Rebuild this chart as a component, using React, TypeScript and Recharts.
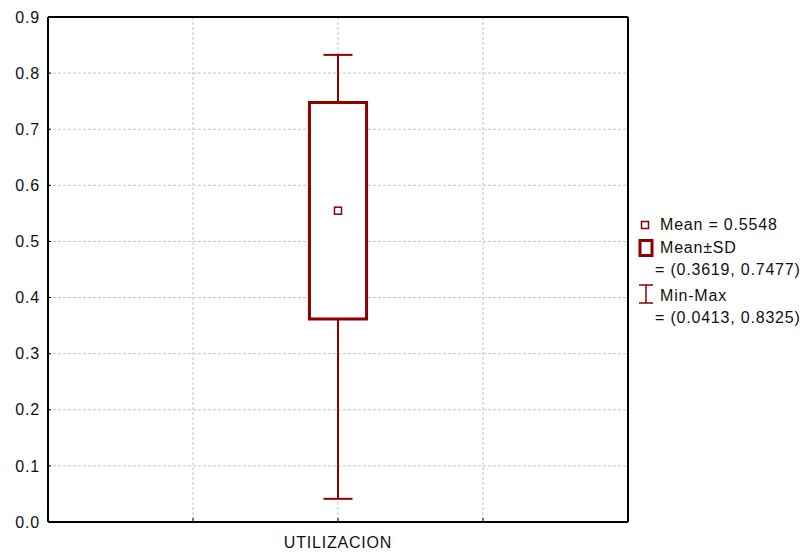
import { ComposedChart, XAxis, YAxis, CartesianGrid, Scatter, ReferenceArea, ReferenceLine } from "recharts";

const categories = ["UTILIZACION"];
const categoryPos = [2];
const meanValues = [0.5548];
const sdLow = [0.3619];
const sdHigh = [0.7477];
const minValues = [0.0413];
const maxValues = [0.8325];
const yTicks = [0, 0.1, 0.2, 0.3, 0.4, 0.5, 0.6, 0.7, 0.8, 0.9];
const xTicks = [1, 2, 3];

const RED = "#8c0000";
const FONT = "'Liberation Sans', Arial, sans-serif";
const tickStyle = { fill: "#111", fontSize: 16, fontFamily: FONT, letterSpacing: 0.8 };
const BOX_HALF = 0.197;
const CAP_HALF = 0.1;

const meanData = categoryPos.map((x, i) => ({ x, y: meanValues[i] }));

const MeanMark = (p: any) => (
  <rect x={p.cx - 3.5} y={p.cy - 3.5} width={7} height={7} fill="#fff" stroke={RED} strokeWidth={1.5} />
);

const fmt = (v: number) => v.toFixed(4);

function LegendBox() {
  const t = { fontFamily: FONT, fontSize: 16, letterSpacing: 0.8, fill: "#111" };
  return (
    <svg width={803} height={552} style={{ position: "absolute", left: 0, top: 0, pointerEvents: "none" }}>
      <rect x={641.5} y={221.5} width={7} height={7} fill="#fff" stroke={RED} strokeWidth={1.5} />
      <text x={660} y={230} {...t}>Mean = {fmt(meanValues[0])}</text>
      <rect x={640} y={240.5} width={12} height={15} fill="#fff" stroke={RED} strokeWidth={3} />
      <text x={660} y={253} {...t}>Mean±SD</text>
      <text x={655} y={275} {...t}>= ({fmt(sdLow[0])}, {fmt(sdHigh[0])})</text>
      <line x1={646} x2={646} y1={285} y2={303} stroke={RED} strokeWidth={1.5} />
      <line x1={639} x2={653} y1={285} y2={285} stroke={RED} strokeWidth={1.5} />
      <line x1={639} x2={653} y1={303} y2={303} stroke={RED} strokeWidth={1.5} />
      <text x={660} y={301} {...t}>Min-Max</text>
      <text x={655} y={323} {...t}>= ({fmt(minValues[0])}, {fmt(maxValues[0])})</text>
    </svg>
  );
}

export default function App() {
  return (
    <div style={{ position: "absolute", left: 0, top: 0, width: 803, height: 552, background: "#fff" }}>
      <ComposedChart width={803} height={552} margin={{ top: 16, right: 174, bottom: 0, left: 0 }}>
        <CartesianGrid stroke="#c4c4c4" strokeDasharray="3 2" />
        <XAxis
          type="number"
          dataKey="x"
          domain={[0, 4]}
          ticks={xTicks}
          height={30}
          tickSize={-4}
          tickMargin={19}
          tick={tickStyle}
          tickFormatter={(v: number) => {
            const i = categoryPos.indexOf(v);
            return i >= 0 ? categories[i] : "";
          }}
          axisLine={{ stroke: "#000", strokeWidth: 2 }}
          tickLine={{ stroke: "#000" }}
        />
        <XAxis
          xAxisId="top"
          orientation="top"
          type="number"
          domain={[0, 4]}
          ticks={xTicks}
          height={1}
          tickSize={-4}
          tickFormatter={() => ""}
          axisLine={{ stroke: "#000", strokeWidth: 2 }}
          tickLine={{ stroke: "#000" }}
        />
        <YAxis
          type="number"
          domain={[0, 0.9]}
          ticks={yTicks}
          width={48}
          tickSize={-3}
          tickMargin={11}
          tick={tickStyle}
          tickFormatter={(v: number) => v.toFixed(1)}
          axisLine={{ stroke: "#000", strokeWidth: 2 }}
          tickLine={{ stroke: "#000" }}
        />
        <YAxis
          yAxisId="right"
          orientation="right"
          type="number"
          domain={[0, 0.9]}
          ticks={yTicks}
          width={1}
          tickSize={-4}
          tickFormatter={() => ""}
          axisLine={{ stroke: "#000", strokeWidth: 2 }}
          tickLine={{ stroke: "#000" }}
        />
        {categoryPos.map((x, i) => (
          <ReferenceArea
            key={"box" + i}
            x1={x - BOX_HALF}
            x2={x + BOX_HALF}
            y1={sdLow[i]}
            y2={sdHigh[i]}
            fill="#fff"
            fillOpacity={1}
            stroke={RED}
            strokeWidth={3}
          />
        ))}
        {categoryPos.map((x, i) => (
          <ReferenceLine key={"wl" + i} segment={[{ x, y: minValues[i] }, { x, y: sdLow[i] }]} stroke={RED} strokeWidth={2} />
        ))}
        {categoryPos.map((x, i) => (
          <ReferenceLine key={"wh" + i} segment={[{ x, y: sdHigh[i] }, { x, y: maxValues[i] }]} stroke={RED} strokeWidth={2} />
        ))}
        {categoryPos.map((x, i) => (
          <ReferenceLine key={"cl" + i} segment={[{ x: x - CAP_HALF, y: minValues[i] }, { x: x + CAP_HALF, y: minValues[i] }]} stroke={RED} strokeWidth={2} />
        ))}
        {categoryPos.map((x, i) => (
          <ReferenceLine key={"ch" + i} segment={[{ x: x - CAP_HALF, y: maxValues[i] }, { x: x + CAP_HALF, y: maxValues[i] }]} stroke={RED} strokeWidth={2} />
        ))}
        <Scatter data={meanData} dataKey="y" shape={<MeanMark />} isAnimationActive={false} />
      </ComposedChart>
      <LegendBox />
    </div>
  );
}
